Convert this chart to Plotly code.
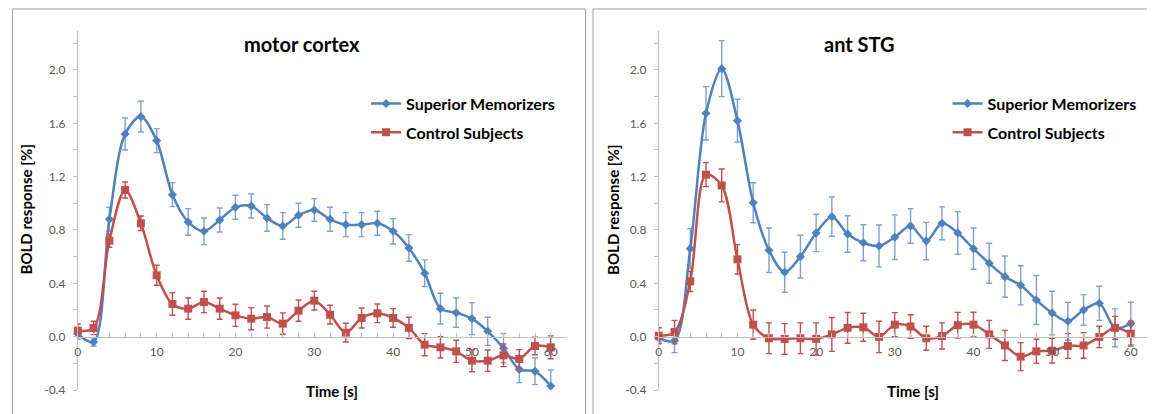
import plotly.graph_objects as go

# The page body has an 8px margin, so the figure is drawn offset by 8px.
PAGE_W, PAGE_H = 1155, 414
OFF = 8
W, H = PAGE_W - OFF, PAGE_H - OFF


def px(xp):
    return (xp - OFF) / W


def py(yp):
    return 1 - (yp - OFF) / H


time_s = list(range(0, 61, 2))

motor_sm = [0.02, -0.04, 0.88, 1.52, 1.65, 1.47, 1.065, 0.86, 0.79, 0.875, 0.97, 0.98, 0.89, 0.83, 0.91,
            0.95, 0.88, 0.84, 0.84, 0.85, 0.79, 0.665, 0.476, 0.21, 0.18, 0.135, 0.04, -0.086, -0.245, -0.26, -0.37]
motor_sm_err = [0.04, 0.03, 0.09, 0.12, 0.115, 0.09, 0.09, 0.1, 0.1, 0.09, 0.09, 0.09, 0.1, 0.1, 0.09,
                0.085, 0.09, 0.09, 0.09, 0.09, 0.095, 0.1, 0.1, 0.115, 0.11, 0.12, 0.105, 0.11, 0.1, 0.1, 0.12]
motor_cs = [0.045, 0.065, 0.72, 1.10, 0.85, 0.46, 0.245, 0.21, 0.26, 0.21, 0.16, 0.135, 0.147, 0.098, 0.195,
            0.27, 0.165, 0.03, 0.14, 0.175, 0.14, 0.066, -0.06, -0.08, -0.11, -0.18, -0.18, -0.14, -0.167, -0.07, -0.08]
motor_cs_err = [0.05, 0.05, 0.05, 0.06, 0.055, 0.075, 0.085, 0.08, 0.08, 0.08, 0.083, 0.083, 0.083, 0.08, 0.08,
                0.07, 0.07, 0.07, 0.075, 0.07, 0.07, 0.08, 0.083, 0.08, 0.083, 0.083, 0.08, 0.085, 0.07, 0.066, 0.086]

stg_sm = [-0.01, -0.03, 0.66, 1.675, 2.01, 1.62, 1.004, 0.648, 0.483, 0.6, 0.778, 0.90, 0.77, 0.704, 0.68,
          0.746, 0.83, 0.717, 0.85, 0.778, 0.66, 0.55, 0.45, 0.385, 0.275, 0.177, 0.115, 0.2, 0.25, 0.066, 0.098]
stg_sm_err = [0.03, 0.09, 0.15, 0.2, 0.21, 0.16, 0.15, 0.167, 0.15, 0.16, 0.14, 0.147, 0.137, 0.135, 0.157,
              0.167, 0.13, 0.14, 0.123, 0.16, 0.155, 0.15, 0.155, 0.147, 0.184, 0.164, 0.142, 0.115, 0.128, 0.142, 0.16]
stg_cs = [0.007, 0.034, 0.415, 1.215, 1.134, 0.58, 0.09, -0.012, -0.017, -0.012, -0.017, 0.017, 0.066, 0.07, -0.002,
          0.09, 0.076, -0.012, 0.005, 0.086, 0.09, 0.017, -0.066, -0.15, -0.11, -0.105, -0.07, -0.066, -0.002, 0.066, 0.022]
stg_cs_err = [0.06, 0.088, 0.076, 0.09, 0.123, 0.11, 0.11, 0.115, 0.115, 0.115, 0.12, 0.127, 0.115, 0.105, 0.118,
              0.09, 0.088, 0.09, 0.098, 0.096, 0.093, 0.105, 0.113, 0.105, 0.09, 0.093, 0.093, 0.096, 0.08, 0.086, 0.093]

panel_titles = ["motor cortex", "ant STG"]
series_names = ["Superior Memorizers", "Control Subjects"]
y_tick_vals = [-0.4, 0.0, 0.4, 0.8, 1.2, 1.6, 2.0]
x_tick_vals = [0, 10, 20, 30, 40, 50, 60]
y_title = "BOLD response [%]"
x_title = "Time [s]"

BLUE = "#4F81BD"
BLUE_ERR = "#7EA1D3"
RED = "#C0504D"
RED_ERR = "#C0504D"
FONT = "Lato"
GRAY_TXT = "#595959"
AXIS_COL = "#BFBFBF"

YMIN, YMAX = -0.4, 2.29
XMIN, XMAX = 0, 62
YDOM = [py(396.7), py(31.7)]
XDOMS = [[px(75), px(565)], [px(657.5), px(1146.5)]]
zero_pos = YDOM[0] + (0 - YMIN) / (YMAX - YMIN) * (YDOM[1] - YDOM[0])

fig = go.Figure()

panels = [(motor_sm, motor_sm_err, motor_cs, motor_cs_err), (stg_sm, stg_sm_err, stg_cs, stg_cs_err)]
for i, (sm, sme, cs, cse) in enumerate(panels):
    xa = "x" if i == 0 else "x2"
    ya = "y" if i == 0 else "y2"
    lg = "legend" if i == 0 else "legend2"
    fig.add_trace(go.Scatter(
        x=time_s, y=sm, name=series_names[0], xaxis=xa, yaxis=ya, legend=lg,
        mode="lines+markers", line=dict(color=BLUE, width=2.5, shape="spline", smoothing=0.9),
        marker=dict(symbol="diamond", size=7, color=BLUE),
        error_y=dict(type="data", array=sme, visible=True, color=BLUE_ERR, thickness=1.4, width=3),
        legendgroup="a", cliponaxis=False))
    fig.add_trace(go.Scatter(
        x=time_s, y=cs, name=series_names[1], xaxis=xa, yaxis=ya, legend=lg,
        mode="lines+markers", line=dict(color=RED, width=2.5, shape="spline", smoothing=0.9),
        marker=dict(symbol="square", size=8, color=RED),
        error_y=dict(type="data", array=cse, visible=True, color=RED_ERR, thickness=1.4, width=3),
        legendgroup="b", cliponaxis=False))

tick_font = dict(family=FONT, size=12, color=GRAY_TXT)
for i in range(2):
    sfx = "" if i == 0 else "2"
    fig.update_layout(**{
        "xaxis" + sfx: dict(
            domain=XDOMS[i], range=[XMIN, XMAX], anchor="free", position=zero_pos,
            showline=True, linecolor=AXIS_COL, linewidth=1, showgrid=False, zeroline=False,
            tickmode="array", tickvals=x_tick_vals, ticks="inside", ticklen=4, tickcolor=AXIS_COL,
            minor=dict(dtick=2, ticks="inside", ticklen=4, tickcolor=AXIS_COL, showgrid=False),
            tickfont=tick_font, ticklabelstandoff=4, fixedrange=True),
        "yaxis" + sfx: dict(
            domain=YDOM, range=[YMIN, YMAX], anchor="x" + sfx,
            showline=True, linecolor=AXIS_COL, linewidth=1, showgrid=False, zeroline=False,
            tickmode="array", tickvals=y_tick_vals, ticktext=[f"{v:.1f}" for v in y_tick_vals],
            ticks="outside", ticklen=4, tickcolor=AXIS_COL,
            minor=dict(dtick=0.2, tick0=0, ticks="outside", ticklen=4, tickcolor=AXIS_COL, showgrid=False),
            tickfont=tick_font, ticklabelstandoff=5, fixedrange=True),
    })

legend_common = dict(
    xanchor="left", yanchor="top", bgcolor="rgba(0,0,0,0)",
    font=dict(family=FONT, size=16, color="#000000", weight="bold"),
    traceorder="grouped", tracegroupgap=5, itemwidth=30,
)
fig.update_layout(
    legend=dict(x=px(364), y=py(88), **legend_common),
    legend2=dict(x=px(947), y=py(88), **legend_common),
)

annotations = []
title_x = [px(300), px(859)]
ytitle_x = [px(24), px(612)]
xtitle_x = [px(330), px(912)]
for i in range(2):
    annotations.append(dict(text=panel_titles[i], x=title_x[i], y=py(45), xref="paper", yref="paper",
                            showarrow=False, xanchor="center", yanchor="middle",
                            font=dict(family=FONT, size=20, color="#000000", weight="bold")))
    annotations.append(dict(text=y_title, x=ytitle_x[i], y=py(213), xref="paper", yref="paper",
                            showarrow=False, xanchor="center", yanchor="middle", textangle=-90,
                            font=dict(family=FONT, size=15, color="#000000", weight="bold")))
    annotations.append(dict(text=x_title, x=xtitle_x[i], y=py(398), xref="paper", yref="paper",
                            showarrow=False, xanchor="center", yanchor="middle",
                            font=dict(family=FONT, size=15, color="#000000", weight="bold")))

shapes = [
    dict(type="rect", xref="paper", yref="paper", x0=px(9.5), x1=px(584), y0=-0.1, y1=py(9),
         line=dict(color="#A0A0A0", width=1), fillcolor="rgba(0,0,0,0)", layer="below"),
    dict(type="rect", xref="paper", yref="paper", x0=px(591.5), x1=1.1, y0=-0.1, y1=py(9),
         line=dict(color="#A0A0A0", width=1), fillcolor="rgba(0,0,0,0)", layer="below"),
]

fig.update_layout(
    width=W, height=H, margin=dict(l=0, r=0, t=0, b=0),
    paper_bgcolor="white", plot_bgcolor="white",
    showlegend=True, annotations=annotations, shapes=shapes,
    font=dict(family=FONT),
)

fig.write_html("out.html", config={"displayModeBar": False})
